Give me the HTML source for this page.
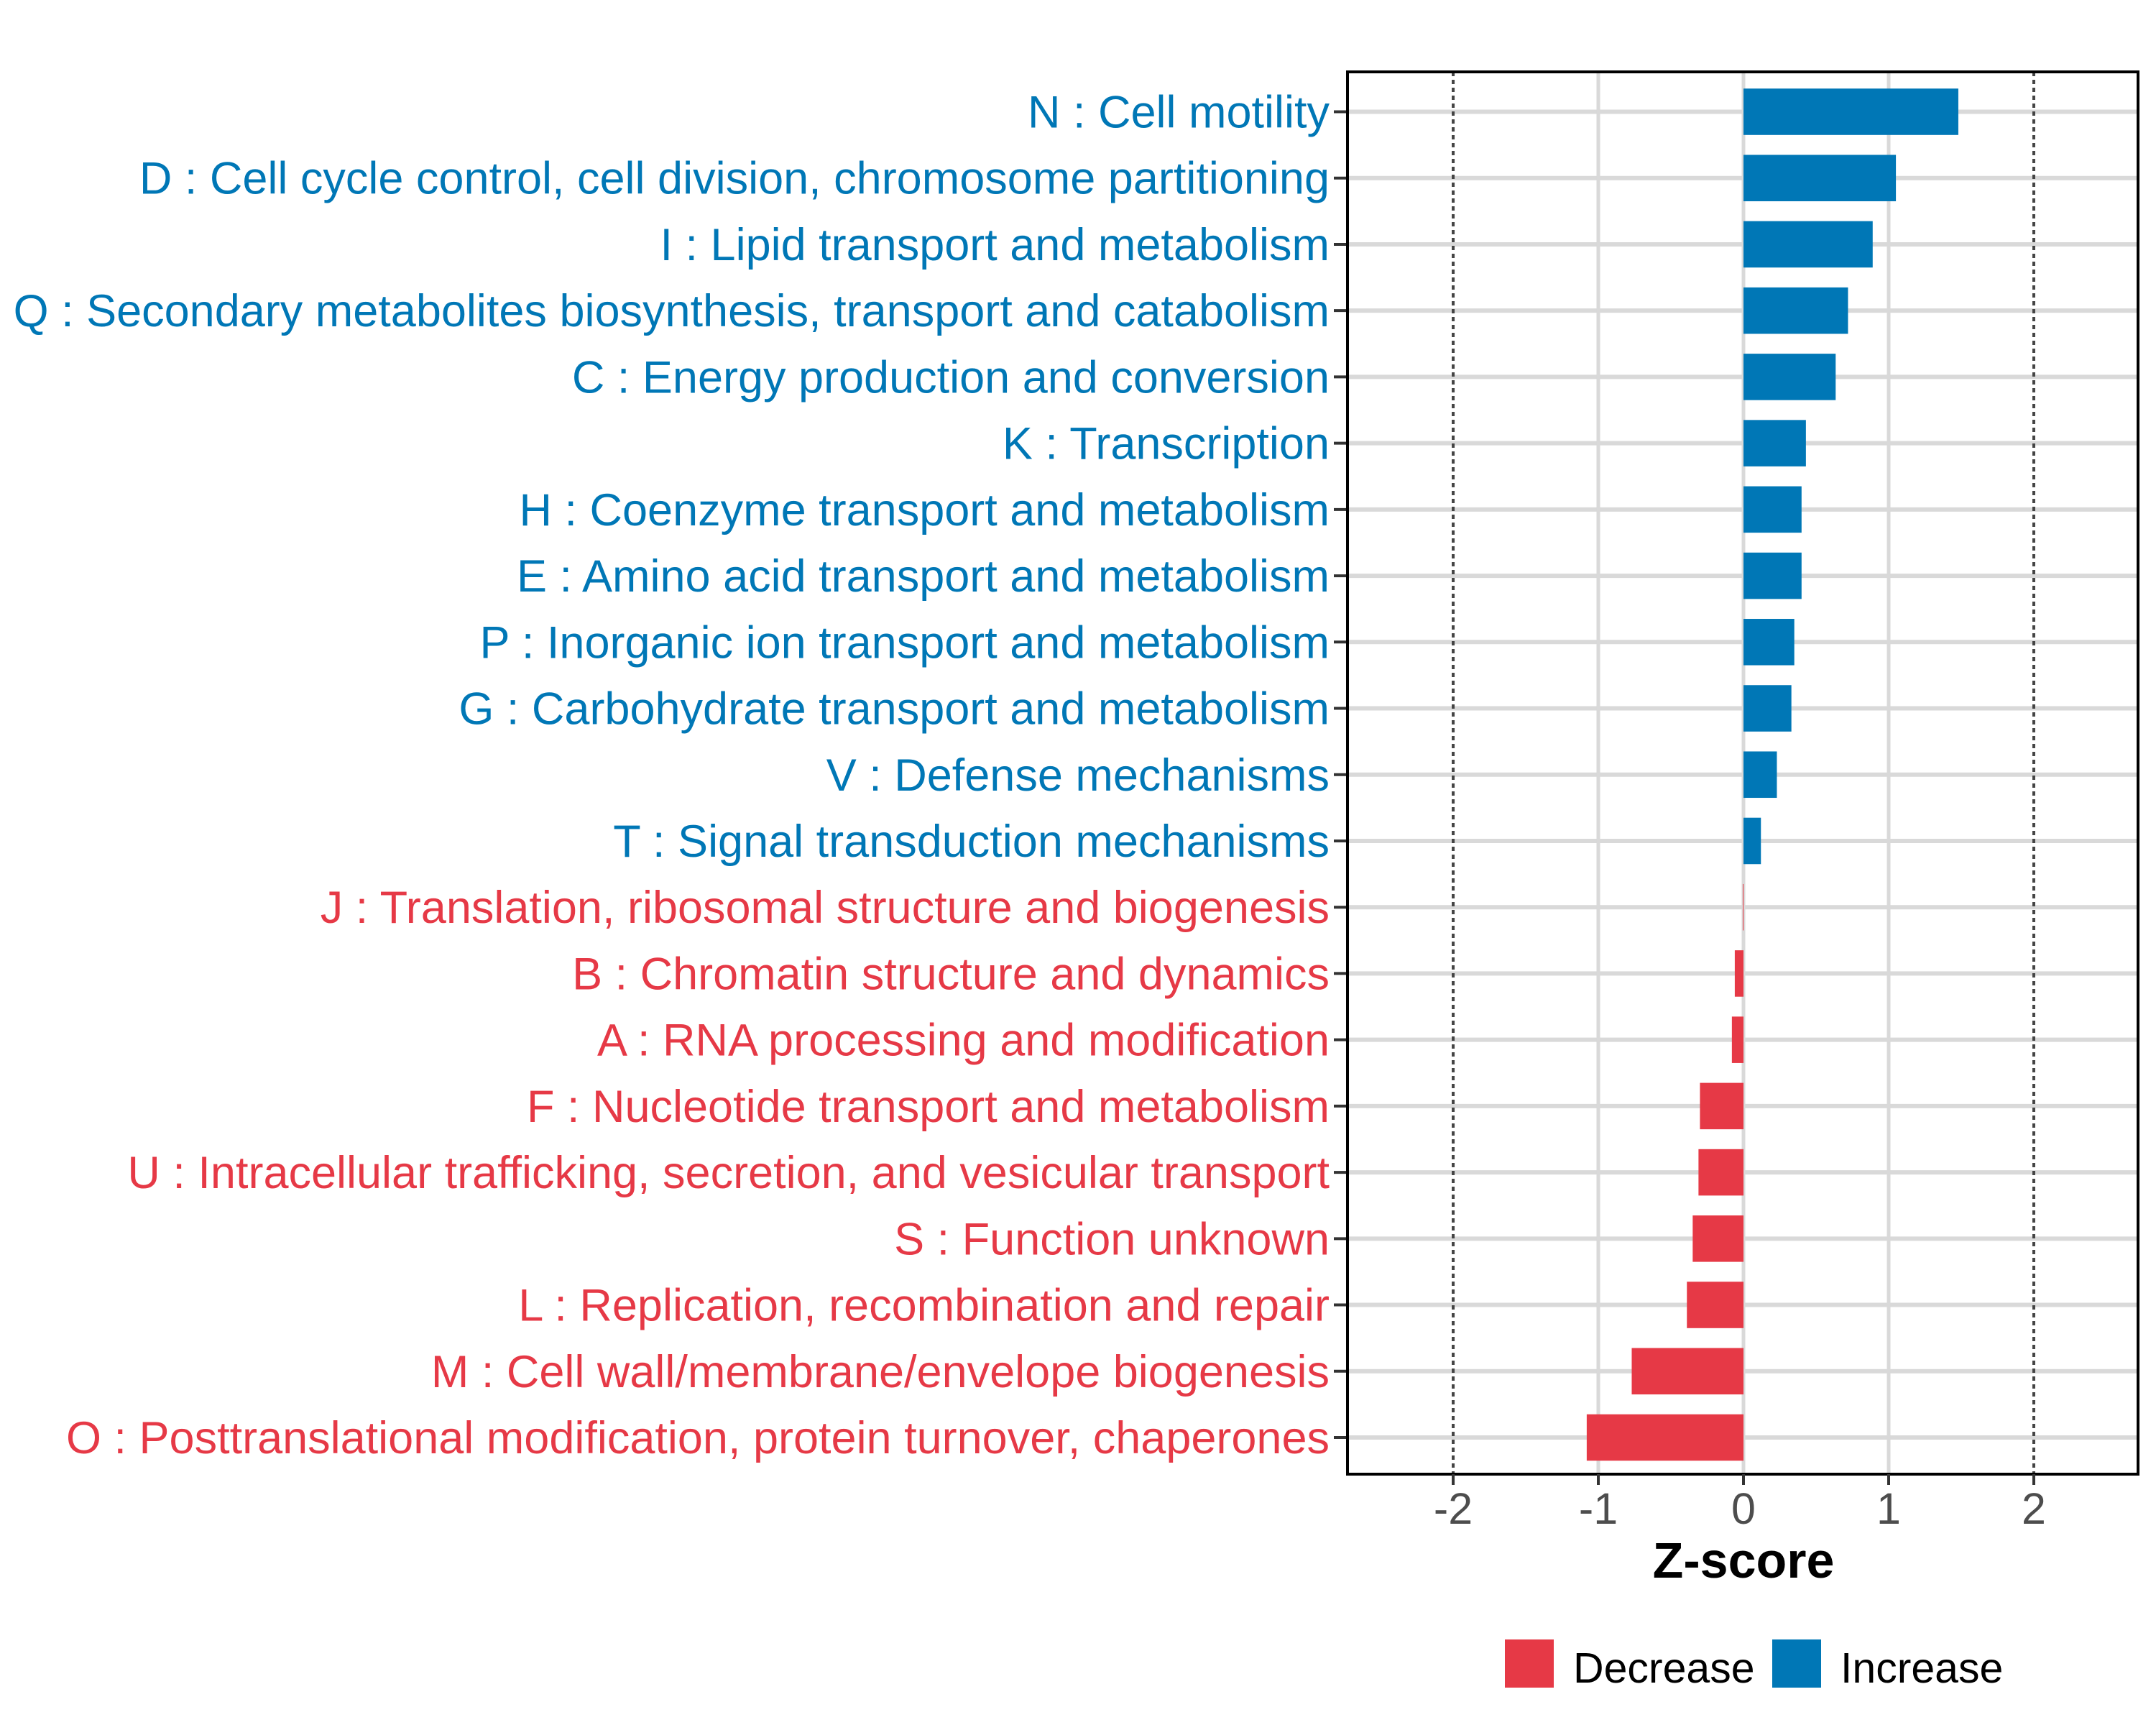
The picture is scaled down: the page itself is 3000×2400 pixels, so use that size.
<!DOCTYPE html>
<html><head><meta charset="utf-8"><style>
html,body{margin:0;padding:0;background:#fff;width:3000px;height:2400px;overflow:hidden}
svg{display:block;font-family:"Liberation Sans",Arial,sans-serif}
</style></head><body>
<svg id="chart" width="3000" height="2400" viewBox="0 0 3000 2400">
<g id="grid"></g>
<g id="bars"></g>
<g id="axes"></g>
<g id="labels"></g>
<text x="2426" y="2195" text-anchor="middle" font-size="70" font-weight="bold" fill="#000">Z-score</text>
<g>
<rect x="2094" y="2281" width="68" height="67" fill="#E63946"></rect>
<text x="2189" y="2341" font-size="59" fill="#000">Decrease</text>
<rect x="2466" y="2281" width="68" height="67" fill="#0077B6"></rect>
<text x="2561" y="2341" font-size="59" fill="#000">Increase</text>
</g>
</svg>
<script>
const categories = ["N : Cell motility","D : Cell cycle control, cell division, chromosome partitioning","I : Lipid transport and metabolism","Q : Secondary metabolites biosynthesis, transport and catabolism","C : Energy production and conversion","K : Transcription","H : Coenzyme transport and metabolism","E : Amino acid transport and metabolism","P : Inorganic ion transport and metabolism","G : Carbohydrate transport and metabolism","V : Defense mechanisms","T : Signal transduction mechanisms","J : Translation, ribosomal structure and biogenesis","B : Chromatin structure and dynamics","A : RNA processing and modification","F : Nucleotide transport and metabolism","U : Intracellular trafficking, secretion, and vesicular transport","S : Function unknown","L : Replication, recombination and repair","M : Cell wall/membrane/envelope biogenesis","O : Posttranslational modification, protein turnover, chaperones"];
const zscores = [1.48,1.05,0.89,0.72,0.635,0.43,0.40,0.40,0.35,0.33,0.23,0.12,-0.005,-0.06,-0.08,-0.30,-0.31,-0.35,-0.39,-0.77,-1.08];
const xTicks = [-2,-1,0,1,2];
const xTickLabels = ["-2","-1","0","1","2"];
const dottedRefs = [-2,2];

const NS="http://www.w3.org/2000/svg";
const L=1875,R=2975,T=100,B=2051;
const xMin=-2.728,xMax=2.718;
const xs=v=>L+(v-xMin)/(xMax-xMin)*(R-L);
const step=(2000-155.5)/(categories.length-1);
const ys=i=>155.5+i*step;
const BLUE="#0077B6",RED="#E63946";
function mk(tag,attrs,parent){const e=document.createElementNS(NS,tag);for(const k in attrs)e.setAttribute(k,attrs[k]);parent.appendChild(e);return e;}
const grid=document.getElementById('grid'),bars=document.getElementById('bars'),axes=document.getElementById('axes'),labels=document.getElementById('labels');
categories.forEach((c,i)=>{
  const g=mk('line',{x1:L,x2:R,y1:ys(i),y2:ys(i),stroke:"#D9D9D9","stroke-width":6},grid);
  
  
});
xTicks.forEach(t=>{
  if(dottedRefs.includes(t)) return;
  const g=mk('line',{x1:xs(t),x2:xs(t),y1:T,y2:B,stroke:"#D9D9D9","stroke-width":5},grid);
  
  
});
dottedRefs.forEach(t=>{
  const g=mk('line',{x1:xs(t),x2:xs(t),y1:T,y2:B,stroke:"#444","stroke-width":4,"stroke-dasharray":"6 5"},grid);
  
  
});
const bh=step*0.7;
zscores.forEach((v,i)=>{
  const x0=xs(0),x1=xs(v);
  const r=mk('rect',{x:Math.min(x0,x1),y:ys(i)-bh/2,width:Math.max(Math.abs(x1-x0),0.8),height:bh,fill:v>=0?BLUE:RED},bars);
  
  
  const t=mk('text',{x:1850,y:ys(i)+22,"text-anchor":"end","font-size":63,fill:v>=0?BLUE:RED},labels);
  t.textContent=categories[i];
  
  
  const tk=mk('line',{x1:1856,x2:L,y1:ys(i),y2:ys(i),stroke:"#333","stroke-width":4},axes);
  
  
});
const pb=mk('rect',{x:L,y:T,width:R-L,height:B-T,fill:"none",stroke:"#000","stroke-width":4},axes);


xTicks.forEach((t,k)=>{
  const tk=mk('line',{x1:xs(t),x2:xs(t),y1:B,y2:B+15,stroke:"#333","stroke-width":4},axes);
  
  
  const lb=mk('text',{x:xs(t),y:2120,"text-anchor":"middle","font-size":61,fill:"#4D4D4D"},axes);
  lb.textContent=xTickLabels[k];
  
  
});
</script>
</body></html>
